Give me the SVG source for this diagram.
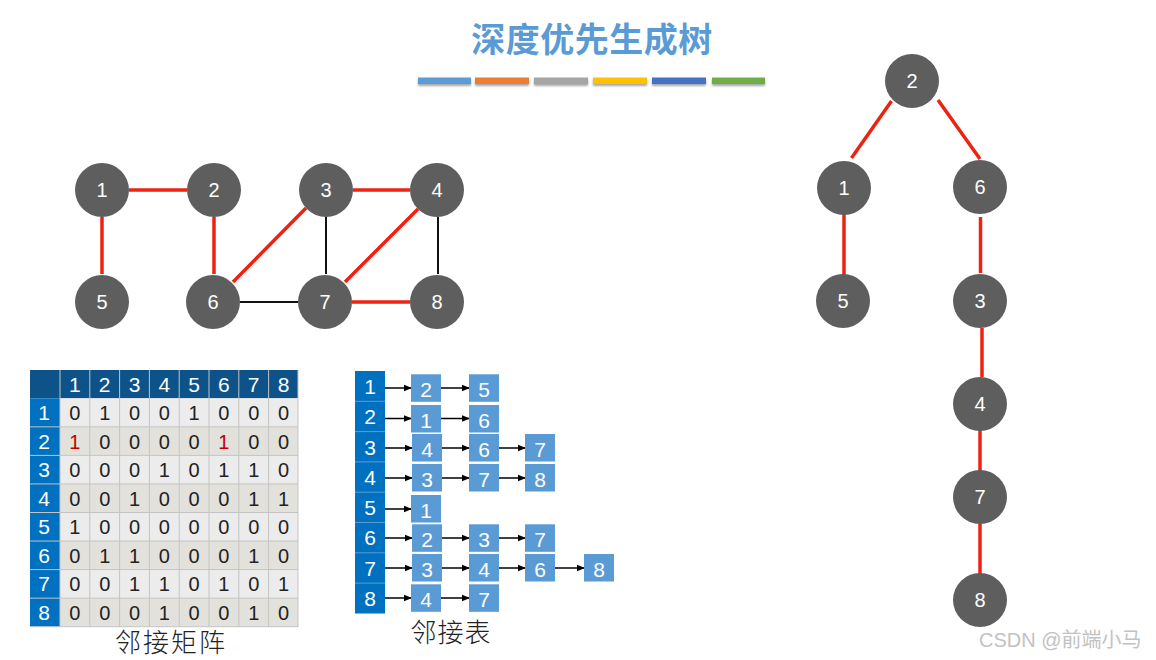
<svg xmlns="http://www.w3.org/2000/svg" width="1156" height="660" viewBox="0 0 1156 660">
<defs>
<style>
.node circle{fill:#5e5e5e}
.node text{fill:#fff;font-family:"Liberation Sans",Arial,sans-serif;font-size:20px;text-anchor:middle}
.red{stroke:#ee2211;stroke-width:3.5;fill:none}
.blk{stroke:#111;stroke-width:2;fill:none}
.mt{font-family:"Liberation Sans",Arial,sans-serif;font-size:20px;text-anchor:middle;fill:#222}
.mh{font-family:"Liberation Sans",Arial,sans-serif;font-size:21px;text-anchor:middle;fill:#fff}
.box{fill:#5b9bd5}
.arr{stroke:#000;stroke-width:1.5;fill:none;marker-end:url(#ah)}
.cap{font-family:"Noto Sans CJK SC",sans-serif;font-size:26px;fill:#222;text-anchor:middle;font-weight:300}
</style>
<marker id="ah" markerWidth="8" markerHeight="8" refX="7" refY="4" orient="auto" markerUnits="userSpaceOnUse">
<path d="M0,0.8 L8,4 L0,7.2 Z" fill="#000"/>
</marker>
<filter id="sh" x="-10%" y="-50%" width="120%" height="250%">
<feDropShadow dx="0" dy="2" stdDeviation="1.2" flood-color="#000" flood-opacity="0.35"/>
</filter>
</defs>
<rect width="1156" height="660" fill="#fff"/>

<g id="title">
<text x="592" y="52" font-family="'Noto Sans CJK SC',sans-serif" font-size="34" font-weight="bold" fill="#5b9bd5" text-anchor="middle" letter-spacing="0.5">深度优先生成树</text>
<g filter="url(#sh)">
<rect x="418" y="77.5" width="53" height="6.5" fill="#5b9bd5"/>
<rect x="475" y="77.5" width="54" height="6.5" fill="#ed7d31"/>
<rect x="534" y="77.5" width="54" height="6.5" fill="#a5a5a5"/>
<rect x="593" y="77.5" width="54" height="6.5" fill="#ffc000"/>
<rect x="652" y="77.5" width="54" height="6.5" fill="#4472c4"/>
<rect x="712" y="77.5" width="53" height="6.5" fill="#70ad47"/>
</g>
</g>

<g id="connectors">
<line class="red" x1="129" y1="190" x2="187" y2="190"/>
<line class="red" x1="102" y1="217" x2="102" y2="274"/>
<line class="red" x1="214" y1="217" x2="214" y2="274"/>
<line class="red" x1="353" y1="190" x2="410" y2="190"/>
<line class="red" x1="306" y1="208" x2="233" y2="282"/>
<line class="blk" x1="326" y1="217" x2="326" y2="274"/>
<line class="red" x1="418" y1="209" x2="345" y2="282"/>
<line class="blk" x1="438" y1="217" x2="438" y2="274"/>
<line class="blk" x1="240" y1="302" x2="298" y2="302"/>
<line class="red" x1="352" y1="302" x2="410" y2="302"/>

<line class="red" x1="891.5" y1="101" x2="851.5" y2="158"/>
<line class="red" x1="938" y1="100" x2="980" y2="159"/>
<line class="red" x1="844" y1="214" x2="844" y2="275"/>
<line class="red" x1="980.5" y1="217" x2="980.5" y2="273"/>
<line class="red" x1="982" y1="328" x2="982" y2="377"/>
<line class="red" x1="980" y1="430" x2="980" y2="471"/>
<line class="red" x1="980" y1="523" x2="980" y2="574"/>

<line class="arr" x1="385" y1="388" x2="411" y2="388"/>
<line class="arr" x1="441" y1="388" x2="469" y2="388"/>
<line class="arr" x1="385" y1="418.5" x2="411" y2="418.5"/>
<line class="arr" x1="441" y1="418.5" x2="469" y2="418.5"/>
<line class="arr" x1="385" y1="448" x2="412" y2="448"/>
<line class="arr" x1="442" y1="448" x2="469" y2="448"/>
<line class="arr" x1="499" y1="448" x2="525" y2="448"/>
<line class="arr" x1="385" y1="478" x2="412" y2="478"/>
<line class="arr" x1="442" y1="478" x2="469" y2="478"/>
<line class="arr" x1="499" y1="478" x2="525" y2="478"/>
<line class="arr" x1="385" y1="509" x2="411" y2="509"/>
<line class="arr" x1="385" y1="538" x2="412" y2="538"/>
<line class="arr" x1="442" y1="538" x2="469" y2="538"/>
<line class="arr" x1="499" y1="538" x2="525" y2="538"/>
<line class="arr" x1="385" y1="568" x2="412" y2="568"/>
<line class="arr" x1="442" y1="568" x2="469" y2="568"/>
<line class="arr" x1="499" y1="568" x2="525" y2="568"/>
<line class="arr" x1="555" y1="568" x2="584" y2="568"/>
<line class="arr" x1="385" y1="598" x2="411" y2="598"/>
<line class="arr" x1="441" y1="598" x2="469" y2="598"/>
</g>

<g id="g1" class="node"><circle cx="102" cy="190" r="27"/><text x="102" y="197">1</text></g>
<g id="g2" class="node"><circle cx="214" cy="190" r="27"/><text x="214" y="197">2</text></g>
<g id="g3" class="node"><circle cx="326" cy="190" r="27"/><text x="326" y="197">3</text></g>
<g id="g4" class="node"><circle cx="437" cy="190" r="27"/><text x="437" y="197">4</text></g>
<g id="g5" class="node"><circle cx="102" cy="302" r="27"/><text x="102" y="309">5</text></g>
<g id="g6" class="node"><circle cx="213" cy="302" r="27"/><text x="213" y="309">6</text></g>
<g id="g7" class="node"><circle cx="325" cy="302" r="27"/><text x="325" y="309">7</text></g>
<g id="g8" class="node"><circle cx="437" cy="302" r="27"/><text x="437" y="309">8</text></g>

<g id="t2" class="node"><circle cx="912" cy="81" r="27"/><text x="912" y="88">2</text></g>
<g id="t1" class="node"><circle cx="844" cy="188" r="27"/><text x="844" y="195">1</text></g>
<g id="t6" class="node"><circle cx="980" cy="187" r="27"/><text x="980" y="194">6</text></g>
<g id="t5" class="node"><circle cx="843" cy="301" r="27"/><text x="843" y="308">5</text></g>
<g id="t3" class="node"><circle cx="980" cy="301" r="27"/><text x="980" y="308">3</text></g>
<g id="t4" class="node"><circle cx="980" cy="404" r="27"/><text x="980" y="411">4</text></g>
<g id="t7" class="node"><circle cx="980" cy="497" r="27"/><text x="980" y="504">7</text></g>
<g id="t8" class="node"><circle cx="980" cy="600" r="27"/><text x="980" y="607">8</text></g>

<g id="matrix">
<rect x="30" y="370" width="268" height="28.3" fill="#0d5289"/>
<rect x="30" y="398.3" width="30" height="228.4" fill="#0070c0"/>
<rect x="60" y="398.3" width="238" height="28.55" fill="#ececec"/>
<rect x="60" y="426.85" width="238" height="28.55" fill="#e2e1dc"/>
<rect x="60" y="455.4" width="238" height="28.55" fill="#ececec"/>
<rect x="60" y="483.95" width="238" height="28.55" fill="#e2e1dc"/>
<rect x="60" y="512.5" width="238" height="28.55" fill="#ececec"/>
<rect x="60" y="541.05" width="238" height="28.55" fill="#e2e1dc"/>
<rect x="60" y="569.6" width="238" height="28.55" fill="#ececec"/>
<rect x="60" y="598.15" width="238" height="28.55" fill="#e2e1dc"/>
<g stroke="#c4c4c4" stroke-width="1">
<line x1="89.8" y1="370" x2="89.8" y2="627"/><line x1="119.6" y1="370" x2="119.6" y2="627"/>
<line x1="149.4" y1="370" x2="149.4" y2="627"/><line x1="179.2" y1="370" x2="179.2" y2="627"/>
<line x1="209" y1="370" x2="209" y2="627"/><line x1="238.8" y1="370" x2="238.8" y2="627"/>
<line x1="268.6" y1="370" x2="268.6" y2="627"/><line x1="298" y1="370" x2="298" y2="627"/>
<line x1="60" y1="370" x2="60" y2="627"/>
<line x1="30" y1="426.85" x2="298" y2="426.85"/><line x1="30" y1="455.4" x2="298" y2="455.4"/>
<line x1="30" y1="483.95" x2="298" y2="483.95"/><line x1="30" y1="512.5" x2="298" y2="512.5"/>
<line x1="30" y1="541.05" x2="298" y2="541.05"/><line x1="30" y1="569.6" x2="298" y2="569.6"/>
<line x1="30" y1="598.15" x2="298" y2="598.15"/><line x1="30" y1="626.7" x2="298" y2="626.7"/>
</g>
<g class="mh">
<text x="74.9" y="392">1</text><text x="104.7" y="392">2</text><text x="134.5" y="392">3</text><text x="164.3" y="392">4</text>
<text x="194.1" y="392">5</text><text x="223.9" y="392">6</text><text x="253.7" y="392">7</text><text x="283.5" y="392">8</text>
<text x="44" y="420">1</text><text x="44" y="448.5">2</text><text x="44" y="477">3</text><text x="44" y="505.5">4</text>
<text x="44" y="534">5</text><text x="44" y="562.5">6</text><text x="44" y="591">7</text><text x="44" y="619.5">8</text>
</g>
<g class="mt">
<text x="74.9" y="420">0</text><text x="104.7" y="420">1</text><text x="134.5" y="420">0</text><text x="164.3" y="420">0</text><text x="194.1" y="420">1</text><text x="223.9" y="420">0</text><text x="253.7" y="420">0</text><text x="283.5" y="420">0</text>
<text x="74.9" y="448.5" fill="#c00000">1</text><text x="104.7" y="448.5">0</text><text x="134.5" y="448.5">0</text><text x="164.3" y="448.5">0</text><text x="194.1" y="448.5">0</text><text x="223.9" y="448.5" fill="#c00000">1</text><text x="253.7" y="448.5">0</text><text x="283.5" y="448.5">0</text>
<text x="74.9" y="477">0</text><text x="104.7" y="477">0</text><text x="134.5" y="477">0</text><text x="164.3" y="477">1</text><text x="194.1" y="477">0</text><text x="223.9" y="477">1</text><text x="253.7" y="477">1</text><text x="283.5" y="477">0</text>
<text x="74.9" y="505.5">0</text><text x="104.7" y="505.5">0</text><text x="134.5" y="505.5">1</text><text x="164.3" y="505.5">0</text><text x="194.1" y="505.5">0</text><text x="223.9" y="505.5">0</text><text x="253.7" y="505.5">1</text><text x="283.5" y="505.5">1</text>
<text x="74.9" y="534">1</text><text x="104.7" y="534">0</text><text x="134.5" y="534">0</text><text x="164.3" y="534">0</text><text x="194.1" y="534">0</text><text x="223.9" y="534">0</text><text x="253.7" y="534">0</text><text x="283.5" y="534">0</text>
<text x="74.9" y="562.5">0</text><text x="104.7" y="562.5">1</text><text x="134.5" y="562.5">1</text><text x="164.3" y="562.5">0</text><text x="194.1" y="562.5">0</text><text x="223.9" y="562.5">0</text><text x="253.7" y="562.5">1</text><text x="283.5" y="562.5">0</text>
<text x="74.9" y="591">0</text><text x="104.7" y="591">0</text><text x="134.5" y="591">1</text><text x="164.3" y="591">1</text><text x="194.1" y="591">0</text><text x="223.9" y="591">1</text><text x="253.7" y="591">0</text><text x="283.5" y="591">1</text>
<text x="74.9" y="619.5">0</text><text x="104.7" y="619.5">0</text><text x="134.5" y="619.5">0</text><text x="164.3" y="619.5">1</text><text x="194.1" y="619.5">0</text><text x="223.9" y="619.5">0</text><text x="253.7" y="619.5">1</text><text x="283.5" y="619.5">0</text>
</g>
<text class="cap" x="171" y="652" letter-spacing="2">邻接矩阵</text>
</g>

<g id="adjlist">
<rect x="355" y="371" width="30" height="242.5" fill="#0070c0"/>
<g stroke="#5b9bd5" stroke-width="1">
<line x1="355" y1="401.3" x2="385" y2="401.3"/><line x1="355" y1="431.6" x2="385" y2="431.6"/>
<line x1="355" y1="461.9" x2="385" y2="461.9"/><line x1="355" y1="492.2" x2="385" y2="492.2"/>
<line x1="355" y1="522.5" x2="385" y2="522.5"/><line x1="355" y1="552.8" x2="385" y2="552.8"/>
<line x1="355" y1="583.1" x2="385" y2="583.1"/>
</g>
<g class="mh">
<text x="370" y="394">1</text><text x="370" y="424">2</text><text x="370" y="454.5">3</text><text x="370" y="484.5">4</text>
<text x="370" y="515">5</text><text x="370" y="545">6</text><text x="370" y="575.5">7</text><text x="370" y="605.5">8</text>
</g>
<g id="l1"><rect class="box" x="411" y="374.3" width="30" height="27.5"/><text class="mh" x="426" y="397">2</text><rect class="box" x="469" y="374.3" width="30" height="27.5"/><text class="mh" x="484" y="397">5</text></g>
<g id="l2"><rect class="box" x="411" y="405" width="30" height="27.5"/><text class="mh" x="426" y="427.5">1</text><rect class="box" x="469" y="405" width="30" height="27.5"/><text class="mh" x="484" y="427.5">6</text></g>
<g id="l3"><rect class="box" x="412" y="434" width="30" height="27.5"/><text class="mh" x="427" y="456.5">4</text><rect class="box" x="469" y="434" width="30" height="27.5"/><text class="mh" x="484" y="456.5">6</text><rect class="box" x="525" y="434" width="30" height="27.5"/><text class="mh" x="540" y="456.5">7</text></g>
<g id="l4"><rect class="box" x="412" y="464" width="30" height="27.5"/><text class="mh" x="427" y="486.5">3</text><rect class="box" x="469" y="464" width="30" height="27.5"/><text class="mh" x="484" y="486.5">7</text><rect class="box" x="525" y="464" width="30" height="27.5"/><text class="mh" x="540" y="486.5">8</text></g>
<g id="l5"><rect class="box" x="411" y="495" width="30" height="27.5"/><text class="mh" x="426" y="517.5">1</text></g>
<g id="l6"><rect class="box" x="412" y="524.3" width="30" height="27.5"/><text class="mh" x="427" y="547">2</text><rect class="box" x="469" y="524.3" width="30" height="27.5"/><text class="mh" x="484" y="547">3</text><rect class="box" x="525" y="524.3" width="30" height="27.5"/><text class="mh" x="540" y="547">7</text></g>
<g id="l7"><rect class="box" x="412" y="554" width="30" height="27.5"/><text class="mh" x="427" y="576.5">3</text><rect class="box" x="469" y="554" width="30" height="27.5"/><text class="mh" x="484" y="576.5">4</text><rect class="box" x="525" y="554" width="30" height="27.5"/><text class="mh" x="540" y="576.5">6</text><rect class="box" x="584" y="554" width="30" height="27.5"/><text class="mh" x="599" y="576.5">8</text></g>
<g id="l8"><rect class="box" x="411" y="584.3" width="30" height="27.5"/><text class="mh" x="426" y="607">4</text><rect class="box" x="469" y="584.3" width="30" height="27.5"/><text class="mh" x="484" y="607">7</text></g>
<text class="cap" x="451" y="642" letter-spacing="1">邻接表</text>
</g>

<text x="979" y="647" font-family="'Liberation Sans','Noto Sans CJK SC',sans-serif" font-size="20" fill="#c2c2c2">CSDN @前端小马</text>
</svg>
